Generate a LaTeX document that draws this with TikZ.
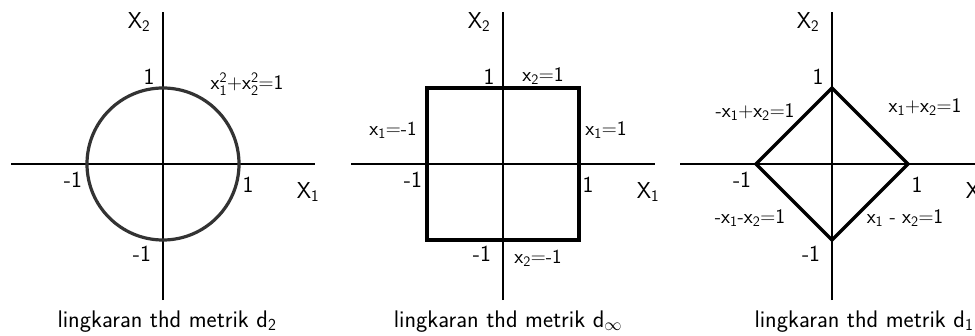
\documentclass[tikz,border=0pt]{standalone}
\newcommand{\sbs}[1]{\textsubscript{#1}}
\tikzset{
  axis/.style={line width=1.4pt},
  curve/.style={line width=3.2pt},
  lbl/.style={font=\fontsize{23}{25}\selectfont\sffamily, inner sep=0pt},
  eqn/.style={font=\fontsize{20}{22}\selectfont\sffamily, inner sep=0pt},
  capt/.style={font=\fontsize{24}{26}\selectfont\sffamily, inner sep=0pt, anchor=base}
}
\begin{document}
\begin{tikzpicture}[x=1pt,y=1pt]
  \clip (0,0) rectangle (975,335);
  % axes and unit marks
  \foreach \cx/\nm in {163/a,503/b,832/c} {
    \begin{scope}[shift={(\cx,171)}]
      \draw[axis] (-152,0) -- (152,0);
      \draw[axis] (0,-136) -- (0,152);
      \node[lbl] (\nm x2) at (-24,142) {X\sbs{2}};
      \node[lbl] (\nm x1) at (145,-28) {X\sbs{1}};
      \node[lbl] (\nm top) at (-14,87) {1};
      \node[lbl] (\nm right) at (85,-21) {1};
      \node[lbl] (\nm left) at (-90,-16) {-1};
      \node[lbl] (\nm bot) at (-21,-90) {-1};
    \end{scope}
  }
  % d_2
  \draw[curve,black!80] (163,171) circle (76);
  \node[eqn] (eqcirc) at (247,251) {$\mathsf{x_1^2{+}x_2^2{=}1}$};
  \node[capt] (capa) at (167,8) {lingkaran thd metrik d\sbs{2}};
  % d_inf
  \draw[curve] (427,95) rectangle (579,247);
  \node[eqn] (eqtop) at (543,259) {$\mathsf{x_2{=}1}$};
  \node[eqn] (eqleft) at (393,205) {$\mathsf{x_1{=}}$-1};
  \node[eqn] (eqright) at (606,205) {$\mathsf{x_1{=}1}$};
  \node[eqn] (eqbot) at (538,77) {$\mathsf{x_2{=}}$-1};
  \node[capt] (capb) at (508,8) {lingkaran thd metrik d\sbs{$\infty$}};
  % d_1
  \draw[curve] (832,247) -- (908,171) -- (832,95) -- (756,171) -- cycle;
  \node[eqn] (eqnw) at (755,223) {-$\mathsf{x_1{+}x_2{=}1}$};
  \node[eqn] (eqne) at (925,228) {$\mathsf{x_1{+}x_2{=}1}$};
  \node[eqn] (eqsw) at (750,117) {-$\mathsf{x_1}$-$\mathsf{x_2{=}1}$};
  \node[eqn] (eqse) at (905,117) {$\mathsf{x_1}$ - $\mathsf{x_2{=}1}$};
  \node[capt] (capc) at (864,8) {lingkaran thd metrik d\sbs{1}};
\end{tikzpicture}
\end{document}
